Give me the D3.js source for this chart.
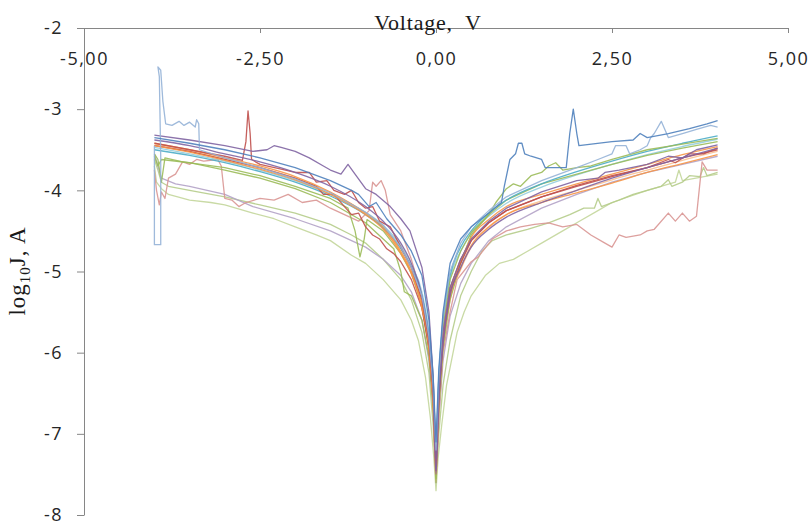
<!DOCTYPE html>
<html>
<head>
<meta charset="utf-8">
<script src="https://cdn.jsdelivr.net/npm/d3@7"></script>
<style>
  html, body { margin: 0; padding: 0; background: #fff; }
  #chart { width: 812px; height: 524px; }
  .axis text { font-family: "Open Sans", sans-serif; font-size: 18px; fill: #262626; letter-spacing: 1.5px; }
  .axis path, .axis line { stroke: #868686; stroke-width: 1; }
  .curve { fill: none; stroke-width: 1.3; stroke-linejoin: round; }
</style>
</head>
<body>
<div id="chart"></div>
<script>
// ---- tick labels ----
const xTicks = [-5, -2.5, 0, 2.5, 5];
const yTicks = [-8, -7, -6, -5, -4, -3, -2];

// ---- shared voltage grid for the smooth sweeps ----
const voltGrid = [-4, -3.5, -3, -2.5, -2, -1.5, -1, -0.75, -0.5, -0.35, -0.2, -0.1, -0.04, 0,
  0.04, 0.1, 0.2, 0.35, 0.5, 0.75, 1, 1.5, 2, 2.5, 3, 3.5, 4];

// log10 J, one value per grid voltage
const orangeA = [-3.42, -3.5, -3.6, -3.7, -3.83, -4.02, -4.28, -4.45, -4.75, -5.0, -5.4, -5.9, -6.6, -7.4,
  -6.5, -5.8, -5.25, -4.88, -4.58, -4.36, -4.2, -4.05, -3.92, -3.8, -3.68, -3.56, -3.46];
const orangeB = [-3.45, -3.53, -3.63, -3.74, -3.87, -4.05, -4.3, -4.48, -4.78, -5.03, -5.45, -5.95, -6.65, -7.5,
  -6.6, -5.9, -5.32, -4.96, -4.68, -4.45, -4.3, -4.15, -4.03, -3.91, -3.78, -3.67, -3.56];
const lightOrange = [-3.44, -3.52, -3.62, -3.72, -3.85, -4.03, -4.29, -4.47, -4.76, -5.02, -5.45, -6.0, -6.7, -7.6,
  -6.7, -5.95, -5.35, -4.98, -4.7, -4.46, -4.3, -4.13, -4.0, -3.87, -3.75, -3.63, -3.52];
const teal = [-3.5, -3.57, -3.66, -3.77, -3.9, -4.07, -4.3, -4.46, -4.72, -4.95, -5.3, -5.8, -6.4, -7.2,
  -6.3, -5.6, -5.05, -4.7, -4.5, -4.28, -4.12, -3.92, -3.77, -3.64, -3.52, -3.42, -3.33];
const lightTeal = [-3.47, -3.55, -3.64, -3.75, -3.88, -4.05, -4.27, -4.43, -4.68, -4.92, -5.25, -5.75, -6.35, -7.3,
  -6.4, -5.7, -5.1, -4.75, -4.53, -4.32, -4.16, -3.96, -3.81, -3.68, -3.56, -3.46, -3.37];
const purpleB = [-3.38, -3.45, -3.55, -3.65, -3.78, -3.95, -4.2, -4.38, -4.65, -4.9, -5.3, -5.85, -6.5, -7.5,
  -6.6, -5.9, -5.3, -4.95, -4.7, -4.48, -4.33, -4.15, -4.0, -3.85, -3.72, -3.6, -3.48];

// noisy sweeps: [voltage, log10 J] pairs
const darkBlue = [[-4, -3.35], [-3.5, -3.42], [-3, -3.5], [-2.5, -3.6], [-2, -3.72], [-1.5, -3.88], [-1.2, -4.0],
  [-1.1, -4.05], [-0.95, -4.2], [-0.85, -4.15], [-0.7, -4.35], [-0.5, -4.55], [-0.35, -4.75], [-0.2, -5.05],
  [-0.1, -5.6], [-0.04, -6.3], [0, -7.1], [0.04, -6.2], [0.1, -5.5], [0.2, -4.9], [0.35, -4.6], [0.5, -4.45],
  [0.75, -4.28], [0.93, -4.15], [0.97, -3.95], [1.05, -3.62], [1.13, -3.55], [1.17, -3.42], [1.22, -3.42],
  [1.26, -3.55], [1.35, -3.58], [1.5, -3.62], [1.55, -3.72], [1.85, -3.72], [1.9, -3.3], [1.95, -3.0],
  [2.0, -3.3], [2.03, -3.45], [2.5, -3.4], [2.8, -3.38], [2.9, -3.3], [3.0, -3.35], [3.3, -3.3], [3.6, -3.24],
  [3.85, -3.18], [4, -3.14]];
const lightBlue = [[-4, -3.45], [-4, -4.67], [-3.91, -4.67], [-3.91, -3.6], [-3.93, -2.6], [-3.95, -2.48],
  [-3.91, -2.52], [-3.88, -2.9], [-3.84, -3.18], [-3.75, -3.2], [-3.65, -3.15], [-3.58, -3.2], [-3.5, -3.16],
  [-3.42, -3.22], [-3.4, -3.13], [-3.37, -3.18], [-3.36, -3.5], [-3, -3.6], [-2.5, -3.72], [-2, -3.86],
  [-1.5, -4.03], [-1, -4.27], [-0.75, -4.43], [-0.5, -4.7], [-0.35, -4.95], [-0.2, -5.3], [-0.1, -5.8],
  [-0.04, -6.4], [0, -7.2], [0.04, -6.3], [0.1, -5.55], [0.2, -5.0], [0.35, -4.65], [0.5, -4.45],
  [0.75, -4.25], [1, -4.08], [1.5, -3.88], [2, -3.72], [2.3, -3.62], [2.5, -3.55], [2.55, -3.45],
  [2.7, -3.45], [2.75, -3.55], [2.9, -3.5], [3.0, -3.45], [3.05, -3.35], [3.1, -3.3], [3.2, -3.15],
  [3.3, -3.35], [3.5, -3.3], [3.7, -3.25], [3.9, -3.2], [4, -3.22]];
const redA = [[-4, -3.42], [-3.5, -3.5], [-3, -3.58], [-2.75, -3.63], [-2.7, -3.4], [-2.67, -3.02],
  [-2.64, -3.3], [-2.62, -3.62], [-2.5, -3.68], [-2.2, -3.74], [-2, -3.78], [-1.8, -3.78], [-1.7, -3.9],
  [-1.55, -3.88], [-1.45, -4.0], [-1.3, -4.05], [-1.2, -4.0], [-1.1, -4.15], [-1, -4.22], [-0.9, -4.2],
  [-0.8, -4.38], [-0.65, -4.45], [-0.5, -4.7], [-0.35, -4.95], [-0.2, -5.35], [-0.1, -5.85], [-0.04, -6.5],
  [0, -7.45], [0.04, -6.6], [0.1, -5.85], [0.2, -5.25], [0.35, -4.9], [0.5, -4.62], [0.75, -4.4], [1, -4.25],
  [1.5, -4.08], [2, -3.95], [2.5, -3.83], [3, -3.72], [3.3, -3.62], [3.4, -3.66], [3.6, -3.55], [3.8, -3.55],
  [4, -3.48]];
const redB = [[-4, -3.45], [-3.5, -3.52], [-3, -3.62], [-2.5, -3.72], [-2, -3.85], [-1.7, -3.95], [-1.6, -4.05],
  [-1.45, -4.05], [-1.3, -4.2], [-1.2, -4.3], [-1.1, -4.28], [-1.0, -4.45], [-0.9, -4.55], [-0.8, -4.6],
  [-0.7, -4.72], [-0.6, -4.78], [-0.5, -4.88], [-0.35, -5.1], [-0.2, -5.45], [-0.1, -5.95], [-0.04, -6.6],
  [0, -7.4], [0.04, -6.55], [0.1, -5.8], [0.2, -5.2], [0.35, -4.85], [0.5, -4.62], [0.75, -4.4], [1, -4.25],
  [1.5, -4.08], [2, -3.94], [2.5, -3.82], [3, -3.72], [3.5, -3.6], [4, -3.5]];
const purpleA = [[-4, -3.32], [-3.5, -3.38], [-3, -3.45], [-2.6, -3.52], [-2.4, -3.5], [-2.3, -3.45],
  [-2.2, -3.47], [-2.0, -3.52], [-1.8, -3.6], [-1.6, -3.7], [-1.5, -3.75], [-1.35, -3.8], [-1.25, -3.68],
  [-1.15, -3.8], [-1.0, -3.98], [-0.85, -4.05], [-0.65, -4.2], [-0.5, -4.35], [-0.37, -4.5], [-0.2, -4.95],
  [-0.1, -5.5], [-0.04, -6.3], [0, -7.3], [0.04, -6.5], [0.1, -5.75], [0.2, -5.2], [0.35, -4.85], [0.5, -4.6],
  [0.75, -4.38], [1, -4.22], [1.5, -4.02], [2, -3.88], [2.3, -3.85], [2.4, -3.78], [2.6, -3.75], [3, -3.68],
  [3.3, -3.58], [3.5, -3.6], [3.7, -3.5], [4, -3.44]];
const greenA = [[-4, -3.55], [-3.95, -3.62], [-3.9, -3.9], [-3.85, -3.6], [-3.6, -3.65], [-3.0, -3.72],
  [-2.5, -3.82], [-2, -3.95], [-1.5, -4.1], [-1.25, -4.22], [-1.15, -4.5], [-1.08, -4.82], [-1.02, -4.6],
  [-0.98, -4.36], [-0.75, -4.5], [-0.5, -4.78], [-0.35, -5.02], [-0.2, -5.42], [-0.1, -5.95], [-0.04, -6.6],
  [0, -7.55], [0.04, -6.5], [0.1, -5.7], [0.2, -5.1], [0.35, -4.75], [0.5, -4.52], [0.75, -4.3], [0.85, -4.15],
  [1.0, -3.98], [1.1, -3.92], [1.2, -3.95], [1.35, -3.82], [1.5, -3.78], [1.6, -3.7], [1.7, -3.66],
  [1.8, -3.75], [2.0, -3.72], [2.2, -3.7], [2.5, -3.62], [3, -3.5], [3.5, -3.43], [4, -3.36]];
const greenB = [[-4, -3.58], [-3.95, -3.7], [-3.9, -3.62], [-3.5, -3.66], [-3, -3.75], [-2.5, -3.85],
  [-2, -3.98], [-1.5, -4.15], [-1, -4.4], [-0.75, -4.6], [-0.6, -4.72], [-0.5, -5.0], [-0.45, -5.25],
  [-0.35, -5.3], [-0.2, -5.6], [-0.1, -6.05], [-0.04, -6.7], [0, -7.6], [0.04, -6.7], [0.1, -5.95],
  [0.2, -5.35], [0.35, -4.9], [0.5, -4.55], [0.75, -4.3], [1, -4.12], [1.5, -3.92], [2, -3.8], [2.5, -3.68],
  [3, -3.57], [3.5, -3.48], [4, -3.4]];
const pink = [[-4, -3.75], [-3.97, -4.0], [-3.93, -4.18], [-3.9, -4.02], [-3.85, -4.1], [-3.8, -3.85],
  [-3.7, -3.8], [-3.6, -3.65], [-3.5, -3.68], [-3.4, -3.62], [-3.3, -3.64], [-3.1, -3.62], [-3.05, -3.7],
  [-3.0, -4.1], [-2.9, -4.12], [-2.8, -4.2], [-2.7, -4.15], [-2.5, -4.1], [-2.3, -4.12], [-2.1, -4.05],
  [-1.9, -4.15], [-1.7, -4.12], [-1.5, -4.22], [-1.3, -4.3], [-1.1, -4.38], [-0.95, -4.25], [-0.9, -3.9],
  [-0.85, -3.95], [-0.78, -3.88], [-0.72, -4.0], [-0.65, -4.3], [-0.5, -4.5], [-0.35, -4.85], [-0.2, -5.3],
  [-0.1, -5.9], [-0.04, -6.6], [0, -7.5], [0.04, -6.8], [0.1, -6.0], [0.2, -5.5], [0.3, -5.1], [0.5, -4.88],
  [0.6, -4.82], [0.8, -4.6], [1.0, -4.5], [1.2, -4.45], [1.4, -4.42], [1.6, -4.4], [1.8, -4.45], [2.0, -4.42],
  [2.2, -4.55], [2.4, -4.65], [2.5, -4.7], [2.6, -4.55], [2.7, -4.58], [2.9, -4.55], [3.0, -4.5], [3.1, -4.48],
  [3.3, -4.28], [3.4, -4.38], [3.5, -4.28], [3.6, -4.38], [3.7, -4.32], [3.78, -3.65], [3.85, -3.75],
  [4, -3.75]];
const lightGreenA = [[-4, -3.7], [-3.97, -3.9], [-3.9, -3.98], [-3.8, -4.05], [-3.5, -4.12], [-3.2, -4.15],
  [-3, -4.18], [-2.6, -4.28], [-2.3, -4.35], [-2, -4.45], [-1.7, -4.55], [-1.5, -4.62], [-1.2, -4.8],
  [-1, -4.9], [-0.75, -5.1], [-0.5, -5.35], [-0.35, -5.6], [-0.25, -5.85], [-0.15, -6.3], [-0.08, -6.8],
  [-0.03, -7.3], [0, -7.7], [0.03, -7.3], [0.08, -6.9], [0.15, -6.4], [0.3, -5.75], [0.4, -5.5], [0.5, -5.3],
  [0.7, -5.05], [0.9, -4.9], [1.1, -4.85], [1.3, -4.75], [1.5, -4.65], [1.8, -4.5], [2.0, -4.4], [2.3, -4.25],
  [2.5, -4.15], [3, -4.0], [3.4, -3.9], [3.45, -3.75], [3.5, -3.88], [4, -3.8]];
const lightGreenB = [[-4, -3.62], [-3.95, -3.75], [-3.9, -3.9], [-3.8, -3.95], [-3.5, -4.0], [-3, -4.08],
  [-2.5, -4.18], [-2, -4.28], [-1.5, -4.42], [-1.2, -4.55], [-1, -4.65], [-0.75, -4.85], [-0.5, -5.1],
  [-0.35, -5.35], [-0.2, -5.75], [-0.1, -6.25], [-0.04, -6.9], [0, -7.6], [0.04, -7.0], [0.1, -6.4],
  [0.2, -5.85], [0.35, -5.3], [0.5, -5.0], [0.65, -4.75], [0.8, -4.62], [1.0, -4.55], [1.3, -4.48],
  [1.6, -4.4], [1.9, -4.3], [2.1, -4.22], [2.25, -4.22], [2.3, -4.1], [2.35, -4.2], [2.6, -4.12],
  [2.8, -4.05], [3.0, -4.0], [3.2, -3.95], [3.3, -3.87], [3.35, -3.95], [3.5, -3.9], [3.6, -3.82],
  [3.75, -3.83], [3.8, -3.72], [3.85, -3.82], [4, -3.78]];
const lightPurple = [[-4, -3.55], [-3.95, -3.7], [-3.9, -3.85], [-3.7, -3.92], [-3.5, -3.95], [-3, -4.05],
  [-2.6, -4.2], [-2, -4.35], [-1.5, -4.5], [-1, -4.7], [-0.75, -4.85], [-0.5, -5.05], [-0.35, -5.25],
  [-0.2, -5.6], [-0.1, -6.1], [-0.04, -6.7], [0, -7.6], [0.04, -6.8], [0.1, -6.1], [0.2, -5.55], [0.35, -5.15],
  [0.5, -4.9], [0.75, -4.62], [1, -4.45], [1.5, -4.22], [2, -4.05], [2.5, -3.9], [3, -3.78], [3.5, -3.68],
  [4, -3.58]];

// grid sweeps -> pairs
const onGrid = vals => voltGrid.map((v, i) => [v, vals[i]]);

// drawing order: first drawn ends up underneath
const seriesList = [
  { pts: lightGreenA, color: "#c3d69b", smooth: false },
  { pts: lightGreenB, color: "#b5cc8a", smooth: false },
  { pts: lightPurple, color: "#b3a2c7", smooth: false },
  { pts: pink, color: "#d99694", smooth: false },
  { pts: onGrid(lightOrange), color: "#fac090", smooth: true },
  { pts: onGrid(lightTeal), color: "#93cddd", smooth: true },
  { pts: greenB, color: "#9bbb59", smooth: false },
  { pts: onGrid(teal), color: "#4bacc6", smooth: true },
  { pts: greenA, color: "#9bbb59", smooth: false },
  { pts: redB, color: "#c0504d", smooth: false },
  { pts: onGrid(orangeB), color: "#f79646", smooth: true },
  { pts: onGrid(orangeA), color: "#f79646", smooth: true },
  { pts: redA, color: "#c0504d", smooth: false },
  { pts: onGrid(purpleB), color: "#8064a2", smooth: true },
  { pts: purpleA, color: "#8064a2", smooth: false },
  { pts: lightBlue, color: "#95b3d7", smooth: false },
  { pts: darkBlue, color: "#4f81bd", smooth: false }
];

// size and plot box
const width = 812;
const height = 524;
const plot = { left: 84, right: 788, top: 28, bottom: 515 };

let svg;

function init() {
  svg = d3.select("#chart")
    .append("svg")
    .attr("width", width)
    .attr("height", height);

  const x = d3.scaleLinear().domain([-5, 5]).range([plot.left, plot.right]);
  const y = d3.scaleLinear().domain([-2, -8]).range([plot.top, plot.bottom]);

  // curves
  const lineLinear = d3.line().x(d => x(d[0])).y(d => y(d[1]));
  const lineSmooth = d3.line().x(d => x(d[0])).y(d => y(d[1])).curve(d3.curveMonotoneX);

  svg.append("g")
    .selectAll("path")
    .data(seriesList)
    .join("path")
    .attr("class", "curve")
    .attr("stroke", d => d.color)
    .attr("stroke-opacity", 0.9)
    .attr("d", d => (d.smooth ? lineSmooth : lineLinear)(d.pts));

  // y axis on the left
  svg.append("g")
    .attr("class", "axis")
    .attr("transform", `translate(${plot.left},0)`)
    .call(d3.axisLeft(y).tickValues(yTicks).tickFormat(v => String(v))
      .tickSize(7).tickSizeOuter(0).tickPadding(14));

  // x axis drawn along the top edge (y = -2)
  svg.append("g")
    .attr("class", "axis")
    .attr("transform", `translate(0,${plot.top})`)
    .call(d3.axisBottom(x).tickValues(xTicks).tickFormat(v => v.toFixed(2).replace(".", ","))
      .tickSize(5).tickSizeOuter(0).tickPadding(19));

  svg.selectAll(".axis .domain").attr("stroke", "#868686");

  // axis titles (serif, like the original)
  svg.append("text")
    .attr("x", 428)
    .attr("y", 30)
    .attr("text-anchor", "middle")
    .style("font-family", "'Liberation Serif', 'Times New Roman', serif")
    .style("font-size", "22px")
    .style("letter-spacing", "0.8px")
    .style("white-space", "pre")
    .attr("fill", "#1a1a1a")
    .text("Voltage,  V");

  const yTitle = svg.append("text")
    .attr("transform", "translate(25,271) rotate(-90)")
    .attr("text-anchor", "middle")
    .style("font-family", "'Liberation Serif', 'Times New Roman', serif")
    .style("font-size", "23px")
    .style("letter-spacing", "1px")
    .attr("fill", "#1a1a1a");
  yTitle.append("tspan").text("log");
  yTitle.append("tspan").attr("dy", 5).style("font-size", "15px").text("10");
  yTitle.append("tspan").attr("dy", -5).text("J, A");
}

if (document.readyState === 'loading') {
  document.addEventListener('DOMContentLoaded', init);
} else {
  init();
}
</script>
</body>
</html>
